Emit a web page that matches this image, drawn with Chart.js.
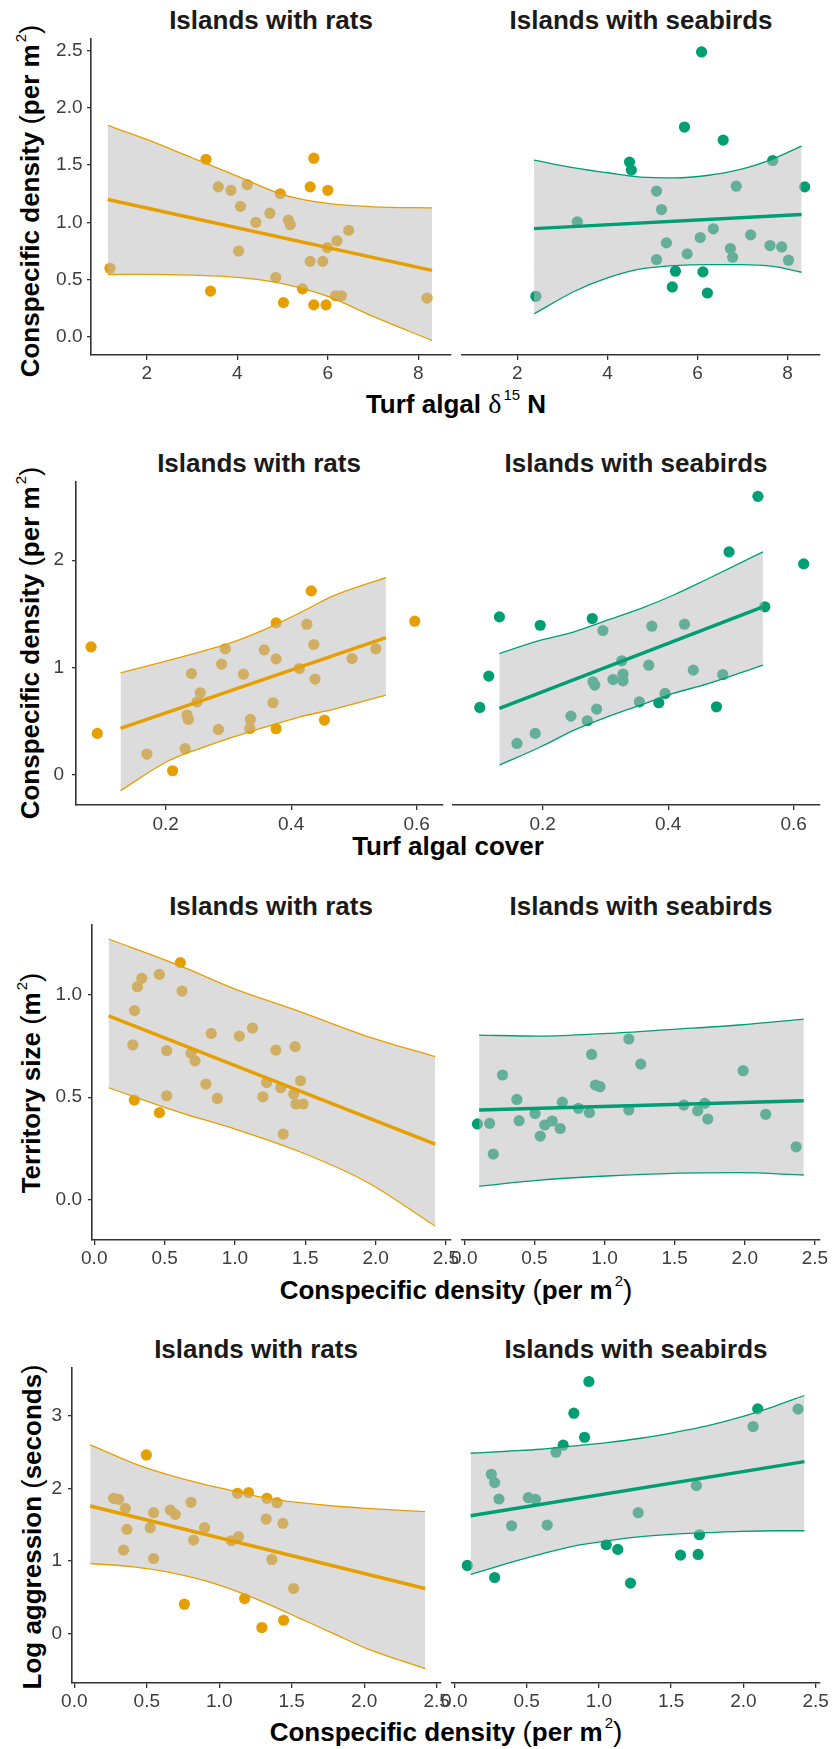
<!DOCTYPE html>
<html>
<head>
<meta charset="utf-8">
<script src="https://cdn.jsdelivr.net/npm/chart.js@4.4.1/dist/chart.umd.min.js"></script>
<style>
  html,body{margin:0;padding:0;background:#fff;}
  body{position:relative;width:832px;height:1749px;overflow:hidden;font-family:"Liberation Sans",Arial,Helvetica,sans-serif;}
  .tt{position:absolute;font-weight:bold;font-size:26px;line-height:30px;color:#1a1a1a;white-space:nowrap;transform:translateX(-50%);}
  .xt{position:absolute;font-weight:bold;font-size:26px;line-height:30px;color:#000;white-space:nowrap;transform:translateX(-50%);}
  .yt{position:absolute;font-weight:bold;font-size:26px;line-height:30px;color:#000;white-space:nowrap;transform:translate(-50%,-50%) rotate(-90deg);}
  .pn{font-weight:normal;font-size:28px;}
  .sp{font-weight:normal;font-size:15px;position:relative;top:-13px;margin-left:2px;}
  .dl{font-family:"Liberation Serif","DejaVu Serif",serif;font-weight:normal;font-size:28px;}
</style>
</head>
<body>
<div class="tt" style="left:271px;top:5px">Islands with rats</div>
<div class="tt" style="left:641px;top:5px">Islands with seabirds</div>
<div class="yt" style="left:32px;top:201px">Conspecific density <span class="pn">(</span>per m<span class="sp">2</span><span class="pn">)</span></div>
<div class="xt" style="left:456px;top:389px">Turf algal <span class="dl">δ</span><span class="sp">15</span> N</div>

<div class="tt" style="left:259px;top:448px">Islands with rats</div>
<div class="tt" style="left:636px;top:448px">Islands with seabirds</div>
<div class="yt" style="left:32px;top:643px">Conspecific density <span class="pn">(</span>per m<span class="sp">2</span><span class="pn">)</span></div>
<div class="xt" style="left:448px;top:831px">Turf algal cover</div>

<div class="tt" style="left:271px;top:891px">Islands with rats</div>
<div class="tt" style="left:641px;top:891px">Islands with seabirds</div>
<div class="yt" style="left:33px;top:1083px">Territory size <span class="pn">(</span>m<span class="sp">2</span><span class="pn">)</span></div>
<div class="xt" style="left:456px;top:1275px">Conspecific density <span class="pn">(</span>per m<span class="sp">2</span><span class="pn">)</span></div>

<div class="tt" style="left:256px;top:1334px">Islands with rats</div>
<div class="tt" style="left:636px;top:1334px">Islands with seabirds</div>
<div class="yt" style="left:32px;top:1527px">Log aggression <span class="pn">(</span>seconds<span class="pn">)</span></div>
<div class="xt" style="left:446px;top:1717px">Conspecific density <span class="pn">(</span>per m<span class="sp">2</span><span class="pn">)</span></div>

<script>
// ---------- Row 1: Turf algal d15N vs conspecific density ----------
const r1RatsX = [1.19, 3.31, 3.41, 3.58, 3.86, 4.22, 4.07, 4.41, 4.03, 4.72, 4.95, 5.13, 5.17, 4.85, 5.02, 5.61, 5.69, 6.00, 5.61, 5.89, 5.99, 6.20, 6.46, 5.44, 5.69, 5.96, 6.17, 6.30, 8.19];
const r1RatsY = [0.60, 1.55, 0.40, 1.31, 1.28, 1.33, 1.14, 1.00, 0.75, 1.08, 1.25, 1.02, 0.98, 0.52, 0.30, 1.31, 1.56, 1.28, 0.66, 0.66, 0.78, 0.84, 0.93, 0.42, 0.28, 0.28, 0.36, 0.36, 0.34];
const r1RatsBandX = [1.14, 2.0, 3.0, 4.0, 5.0, 6.0, 7.0, 8.30];
const r1RatsUpper = [1.846, 1.724, 1.564, 1.404, 1.243, 1.165, 1.136, 1.127];
const r1RatsLower = [0.545, 0.547, 0.540, 0.521, 0.466, 0.355, 0.180, -0.030];
const r1RatsFitX = [1.14, 8.30];
const r1RatsFitY = [1.200, 0.582];

const r1BirdX = [2.41, 3.33, 4.49, 4.53, 5.09, 5.20, 5.31, 5.09, 5.51, 5.44, 5.71, 5.77, 6.09, 6.06, 6.12, 6.22, 6.35, 6.57, 6.73, 6.78, 6.86, 7.18, 7.61, 7.67, 7.87, 8.02, 8.38];
const r1BirdY = [0.355, 1.005, 1.526, 1.456, 1.273, 1.112, 0.821, 0.676, 0.574, 0.437, 1.832, 0.725, 2.487, 0.868, 0.568, 0.384, 0.944, 1.718, 0.772, 0.696, 1.316, 0.891, 0.798, 1.540, 0.786, 0.670, 1.310];
const r1BirdBandX = [2.37, 3.27, 4.00, 4.74, 5.48, 6.21, 6.95, 7.68, 8.31];
const r1BirdUpper = [1.543, 1.476, 1.433, 1.395, 1.389, 1.409, 1.462, 1.555, 1.666];
const r1BirdLower = [0.201, 0.399, 0.515, 0.594, 0.623, 0.632, 0.632, 0.617, 0.565];
const r1BirdFitX = [2.37, 8.31];
const r1BirdFitY = [0.946, 1.069];

const r1XTicks = [2, 4, 6, 8];
const r1XLabels = ['2', '4', '6', '8'];
const r1YTicks = [0, 0.5, 1, 1.5, 2, 2.5];
const r1YLabels = ['0.0', '0.5', '1.0', '1.5', '2.0', '2.5'];

// ---------- Row 2: Turf algal cover vs conspecific density ----------
const r2RatsX = [0.081, 0.091, 0.170, 0.211, 0.231, 0.234, 0.236, 0.241, 0.255, 0.250, 0.284, 0.289, 0.295, 0.324, 0.335, 0.334, 0.357, 0.371, 0.376, 0.376, 0.376, 0.413, 0.425, 0.432, 0.436, 0.438, 0.453, 0.497, 0.535, 0.597];
const r2RatsY = [1.191, 0.383, 0.190, 0.034, 0.240, 0.554, 0.513, 0.942, 0.762, 0.678, 0.420, 1.030, 1.173, 0.936, 0.513, 0.429, 1.163, 0.669, 1.415, 1.079, 0.426, 0.989, 1.403, 1.714, 1.213, 0.890, 0.507, 1.082, 1.173, 1.431];
const r2RatsBandX = [0.128, 0.2016, 0.255, 0.308, 0.361, 0.414, 0.467, 0.551];
const r2RatsUpper = [0.949, 1.061, 1.145, 1.238, 1.362, 1.509, 1.667, 1.838];
const r2RatsLower = [-0.152, 0.118, 0.243, 0.351, 0.445, 0.538, 0.607, 0.740];
const r2RatsFitX = [0.128, 0.551];
const r2RatsFitY = [0.429, 1.278];

const r2BirdX = [0.0997, 0.114, 0.131, 0.159, 0.188, 0.196, 0.245, 0.271, 0.279, 0.280, 0.283, 0.286, 0.296, 0.312, 0.326, 0.328, 0.328, 0.354, 0.369, 0.374, 0.385, 0.395, 0.426, 0.440, 0.477, 0.487, 0.497, 0.543, 0.554, 0.616];
const r2BirdY = [0.625, 0.918, 1.471, 0.289, 0.383, 1.393, 0.544, 0.501, 1.456, 0.865, 0.834, 0.610, 1.344, 0.886, 1.061, 0.936, 0.874, 0.678, 1.020, 1.384, 0.669, 0.756, 1.403, 0.974, 0.631, 0.933, 2.078, 2.597, 1.565, 1.966];
const r2BirdBandX = [0.131, 0.197, 0.250, 0.303, 0.356, 0.408, 0.461, 0.551];
const r2BirdUpper = [1.129, 1.253, 1.331, 1.440, 1.549, 1.673, 1.820, 2.078];
const r2BirdLower = [0.087, 0.258, 0.414, 0.538, 0.647, 0.756, 0.843, 1.020];
const r2BirdFitX = [0.131, 0.551];
const r2BirdFitY = [0.616, 1.565];

const r2XTicks = [0.2, 0.4, 0.6];
const r2XLabels = ['0.2', '0.4', '0.6'];
const r2YTicks = [0, 1, 2];
const r2YLabels = ['0', '1', '2'];

// ---------- Row 3: Conspecific density vs territory size ----------
const r3RatsX = [0.274, 0.286, 0.307, 0.338, 0.284, 0.463, 0.463, 0.515, 0.515, 0.612, 0.624, 0.688, 0.716, 0.794, 0.832, 0.875, 1.031, 1.125, 1.199, 1.225, 1.291, 1.326, 1.343, 1.428, 1.418, 1.433, 1.485, 1.466];
const r3RatsY = [0.754, 0.921, 1.037, 1.078, 0.486, 1.097, 0.425, 0.726, 0.507, 1.154, 1.016, 0.713, 0.677, 0.564, 0.810, 0.494, 0.797, 0.836, 0.502, 0.571, 0.729, 0.546, 0.321, 0.746, 0.515, 0.467, 0.467, 0.580];
const r3RatsBandX = [0.102, 0.612, 0.988, 1.461, 1.934, 2.423];
const r3RatsUpper = [1.269, 1.138, 1.029, 0.916, 0.797, 0.697];
const r3RatsLower = [0.546, 0.425, 0.348, 0.235, 0.089, -0.126];
const r3RatsFitX = [0.102, 2.423];
const r3RatsFitY = [0.895, 0.272];

const r3BirdX = [0.094, 0.181, 0.207, 0.273, 0.375, 0.391, 0.505, 0.542, 0.574, 0.627, 0.684, 0.699, 0.814, 0.892, 0.908, 0.935, 0.968, 1.173, 1.173, 1.258, 1.565, 1.664, 1.714, 1.736, 1.988, 2.149, 2.366];
const r3BirdY = [0.370, 0.373, 0.224, 0.608, 0.489, 0.386, 0.421, 0.311, 0.365, 0.384, 0.348, 0.476, 0.446, 0.425, 0.708, 0.559, 0.551, 0.783, 0.438, 0.661, 0.462, 0.434, 0.470, 0.394, 0.629, 0.417, 0.259];
const r3BirdBandX = [0.106, 0.542, 1.015, 1.487, 1.960, 2.420];
const r3BirdUpper = [0.802, 0.797, 0.810, 0.830, 0.851, 0.880];
const r3BirdLower = [0.068, 0.097, 0.117, 0.130, 0.133, 0.122];
const r3BirdFitX = [0.106, 2.420];
const r3BirdFitY = [0.438, 0.483];

const r3XTicks = [0, 0.5, 1, 1.5, 2, 2.5];
const r3XLabels = ['0.0', '0.5', '1.0', '1.5', '2.0', '2.5'];
const r3YTicks = [0, 0.5, 1];
const r3YLabels = ['0.0', '0.5', '1.0'];

// ---------- Row 4: Conspecific density vs log aggression ----------
const r4RatsX = [0.271, 0.306, 0.352, 0.363, 0.340, 0.497, 0.524, 0.547, 0.547, 0.662, 0.697, 0.759, 0.805, 0.823, 0.899, 1.083, 1.133, 1.126, 1.202, 1.175, 1.294, 1.329, 1.324, 1.398, 1.363, 1.439, 1.444, 1.513];
const r4RatsY = [1.864, 1.850, 1.726, 1.436, 1.150, 2.462, 1.459, 1.666, 1.035, 1.703, 1.643, 0.405, 1.809, 1.289, 1.459, 1.279, 1.335, 1.933, 1.942, 0.483, 0.083, 1.864, 1.578, 1.804, 1.022, 1.519, 0.184, 0.621];
const r4RatsBandX = [0.110, 0.409, 0.639, 0.869, 1.099, 1.329, 1.559, 1.789, 2.019, 2.421];
const r4RatsUpper = [2.600, 2.347, 2.195, 2.071, 1.965, 1.864, 1.804, 1.758, 1.726, 1.680];
const r4RatsLower = [0.966, 0.920, 0.851, 0.746, 0.598, 0.414, 0.207, 0.000, -0.207, -0.483];
const r4RatsFitX = [0.110, 2.421];
const r4RatsFitY = [1.758, 0.621];

const r4BirdX = [0.090, 0.256, 0.279, 0.279, 0.309, 0.396, 0.512, 0.562, 0.643, 0.703, 0.753, 0.827, 0.901, 0.931, 1.051, 1.131, 1.219, 1.272, 1.565, 1.675, 1.687, 1.696, 2.067, 2.099, 2.378];
const r4BirdY = [0.939, 2.195, 2.080, 0.773, 1.855, 1.486, 1.873, 1.850, 1.496, 2.499, 2.596, 3.037, 2.706, 3.474, 1.224, 1.160, 0.695, 1.666, 1.081, 2.039, 1.091, 1.362, 2.853, 3.097, 3.093];
const r4BirdBandX = [0.113, 0.366, 0.597, 0.827, 1.058, 1.288, 1.518, 1.749, 1.979, 2.210, 2.422];
const r4BirdUpper = [2.485, 2.513, 2.540, 2.586, 2.632, 2.692, 2.770, 2.862, 2.982, 3.129, 3.281];
const r4BirdLower = [0.815, 0.966, 1.095, 1.206, 1.279, 1.335, 1.371, 1.390, 1.408, 1.417, 1.417];
const r4BirdFitX = [0.113, 2.422];
const r4BirdFitY = [1.624, 2.370];

const r4XTicks = [0, 0.5, 1, 1.5, 2, 2.5];
const r4XLabels = ['0.0', '0.5', '1.0', '1.5', '2.0', '2.5'];
const r4YTicks = [0, 1, 2, 3];
const r4YLabels = ['0', '1', '2', '3'];

// ---------- drawing ----------
const ORANGE = '#E69F00';
const GREEN = '#009E73';
const RIBBON = 'rgba(189,189,189,0.53)';
const AXC = '#333333';
const TICKC = '#3d3d3d';
const PADT = 14, PADS = 24, XH = 44;

Chart.defaults.font.family = '"Liberation Sans", Arial, Helvetica, sans-serif';

function pts(xs, ys) { return xs.map((x, i) => ({ x: x, y: ys[i] })); }

function makePanel(o) {
  const r = o.rect;
  const showY = o.showY;
  const left = showY ? 0 : r.l - PADS;
  const top = r.t - PADT;
  const width = showY ? r.r + PADS : (r.r - r.l) + 2 * PADS;
  const height = (r.b - r.t) + PADT + XH;
  const cv = document.createElement('canvas');
  cv.width = width; cv.height = height;
  cv.style.cssText = 'position:absolute;left:' + left + 'px;top:' + top + 'px;width:' + width + 'px;height:' + height + 'px;';
  document.body.appendChild(cv);
  const lineCommon = { type: 'line', pointRadius: 0, pointHoverRadius: 0, cubicInterpolationMode: 'monotone', fill: false };
  new Chart(cv, {
    type: 'scatter',
    data: {
      datasets: [
        { type: 'line', data: pts(o.fitX, o.fitY), borderColor: o.color, borderWidth: 3.4, pointRadius: 0, fill: false, order: 0 },
        Object.assign({}, lineCommon, { data: pts(o.bandX, o.upper), borderColor: o.color, borderWidth: 1.3, order: 1 }),
        Object.assign({}, lineCommon, { data: pts(o.bandX, o.lower), borderColor: o.color, borderWidth: 1.3, order: 2 }),
        Object.assign({}, lineCommon, { data: pts(o.bandX, o.upper), borderColor: 'rgba(0,0,0,0)', borderWidth: 0, fill: '+1', backgroundColor: RIBBON, order: 3 }),
        Object.assign({}, lineCommon, { data: pts(o.bandX, o.lower), borderColor: 'rgba(0,0,0,0)', borderWidth: 0, order: 4 }),
        { type: 'scatter', data: pts(o.x, o.y), backgroundColor: o.color, borderWidth: 0, pointRadius: 5.6, pointHoverRadius: 5.6, order: 5 }
      ]
    },
    options: {
      responsive: false,
      maintainAspectRatio: false,
      animation: false,
      events: [],
      layout: { padding: { left: showY ? 0 : PADS, right: PADS, top: PADT, bottom: 0 } },
      plugins: { legend: { display: false }, tooltip: { enabled: false }, title: { display: false } },
      scales: {
        x: {
          type: 'linear', position: 'bottom', min: o.xmin, max: o.xmax,
          afterBuildTicks: function (s) { s.ticks = o.xTicks.map(function (v) { return { value: v }; }); },
          afterFit: function (s) { s.height = XH; s.paddingLeft = 0; s.paddingRight = 0; },
          ticks: { autoSkip: false, maxRotation: 0, minRotation: 0, padding: o.xPad, color: TICKC, font: { size: 19 },
            callback: function (v, i) { return o.xLabels[i]; } },
          grid: { display: true, drawOnChartArea: false, drawTicks: true, tickLength: 5, color: AXC, lineWidth: 1.3 },
          border: { display: true, color: AXC, width: 1.6 }
        },
        y: {
          type: 'linear', position: 'left', display: showY, min: o.ymin, max: o.ymax,
          afterBuildTicks: function (s) { s.ticks = o.yTicks.map(function (v) { return { value: v }; }); },
          afterFit: function (s) { s.width = showY ? r.l : 0; s.paddingTop = 0; s.paddingBottom = 0; },
          ticks: { autoSkip: false, padding: o.yPad, color: TICKC, font: { size: 19 },
            callback: function (v, i) { return o.yLabels[i]; } },
          grid: { display: true, drawOnChartArea: false, drawTicks: true, tickLength: 4, color: AXC, lineWidth: 1.3 },
          border: { display: true, color: AXC, width: 1.6 }
        }
      }
    }
  });
}

// Row 1
makePanel({ rect: { l: 91, t: 39, r: 451, b: 355 }, showY: true, color: ORANGE,
  x: r1RatsX, y: r1RatsY, bandX: r1RatsBandX, upper: r1RatsUpper, lower: r1RatsLower, fitX: r1RatsFitX, fitY: r1RatsFitY,
  xmin: 0.77, xmax: 8.72, ymin: -0.157, ymax: 2.60, xTicks: r1XTicks, xLabels: r1XLabels, yTicks: r1YTicks, yLabels: r1YLabels, xPad: 2, yPad: 4.5 });
makePanel({ rect: { l: 462, t: 39, r: 820, b: 355 }, showY: false, color: GREEN,
  x: r1BirdX, y: r1BirdY, bandX: r1BirdBandX, upper: r1BirdUpper, lower: r1BirdLower, fitX: r1BirdFitX, fitY: r1BirdFitY,
  xmin: 0.77, xmax: 8.72, ymin: -0.157, ymax: 2.60, xTicks: r1XTicks, xLabels: r1XLabels, yTicks: r1YTicks, yLabels: r1YLabels, xPad: 2, yPad: 4.5 });

// Row 2
makePanel({ rect: { l: 76, t: 482, r: 443, b: 805 }, showY: true, color: ORANGE,
  x: r2RatsX, y: r2RatsY, bandX: r2RatsBandX, upper: r2RatsUpper, lower: r2RatsLower, fitX: r2RatsFitX, fitY: r2RatsFitY,
  xmin: 0.057, xmax: 0.642, ymin: -0.286, ymax: 2.731, xTicks: r2XTicks, xLabels: r2XLabels, yTicks: r2YTicks, yLabels: r2YLabels, xPad: 3.5, yPad: 8 });
makePanel({ rect: { l: 453, t: 482, r: 820, b: 805 }, showY: false, color: GREEN,
  x: r2BirdX, y: r2BirdY, bandX: r2BirdBandX, upper: r2BirdUpper, lower: r2BirdLower, fitX: r2BirdFitX, fitY: r2BirdFitY,
  xmin: 0.057, xmax: 0.642, ymin: -0.286, ymax: 2.731, xTicks: r2XTicks, xLabels: r2XLabels, yTicks: r2YTicks, yLabels: r2YLabels, xPad: 3.5, yPad: 8 });

// Row 3
makePanel({ rect: { l: 92, t: 925, r: 451, b: 1240 }, showY: true, color: ORANGE,
  x: r3RatsX, y: r3RatsY, bandX: r3RatsBandX, upper: r3RatsUpper, lower: r3RatsLower, fitX: r3RatsFitX, fitY: r3RatsFitY,
  xmin: -0.016, xmax: 2.536, ymin: -0.194, ymax: 1.337, xTicks: r3XTicks, xLabels: r3XLabels, yTicks: r3YTicks, yLabels: r3YLabels, xPad: 2, yPad: 6 });
makePanel({ rect: { l: 462, t: 925, r: 820, b: 1240 }, showY: false, color: GREEN,
  x: r3BirdX, y: r3BirdY, bandX: r3BirdBandX, upper: r3BirdUpper, lower: r3BirdLower, fitX: r3BirdFitX, fitY: r3BirdFitY,
  xmin: -0.016, xmax: 2.536, ymin: -0.194, ymax: 1.337, xTicks: r3XTicks, xLabels: r3XLabels, yTicks: r3YTicks, yLabels: r3YLabels, xPad: 2, yPad: 6 });

// Row 4
makePanel({ rect: { l: 72, t: 1368, r: 441, b: 1683 }, showY: true, color: ORANGE,
  x: r4RatsX, y: r4RatsY, bandX: r4RatsBandX, upper: r4RatsUpper, lower: r4RatsLower, fitX: r4RatsFitX, fitY: r4RatsFitY,
  xmin: -0.016, xmax: 2.53, ymin: -0.681, ymax: 3.66, xTicks: r4XTicks, xLabels: r4XLabels, yTicks: r4YTicks, yLabels: r4YLabels, xPad: 2.5, yPad: 6 });
makePanel({ rect: { l: 452, t: 1368, r: 820, b: 1683 }, showY: false, color: GREEN,
  x: r4BirdX, y: r4BirdY, bandX: r4BirdBandX, upper: r4BirdUpper, lower: r4BirdLower, fitX: r4BirdFitX, fitY: r4BirdFitY,
  xmin: -0.016, xmax: 2.53, ymin: -0.681, ymax: 3.66, xTicks: r4XTicks, xLabels: r4XLabels, yTicks: r4YTicks, yLabels: r4YLabels, xPad: 2.5, yPad: 6 });
</script>
</body>
</html>
